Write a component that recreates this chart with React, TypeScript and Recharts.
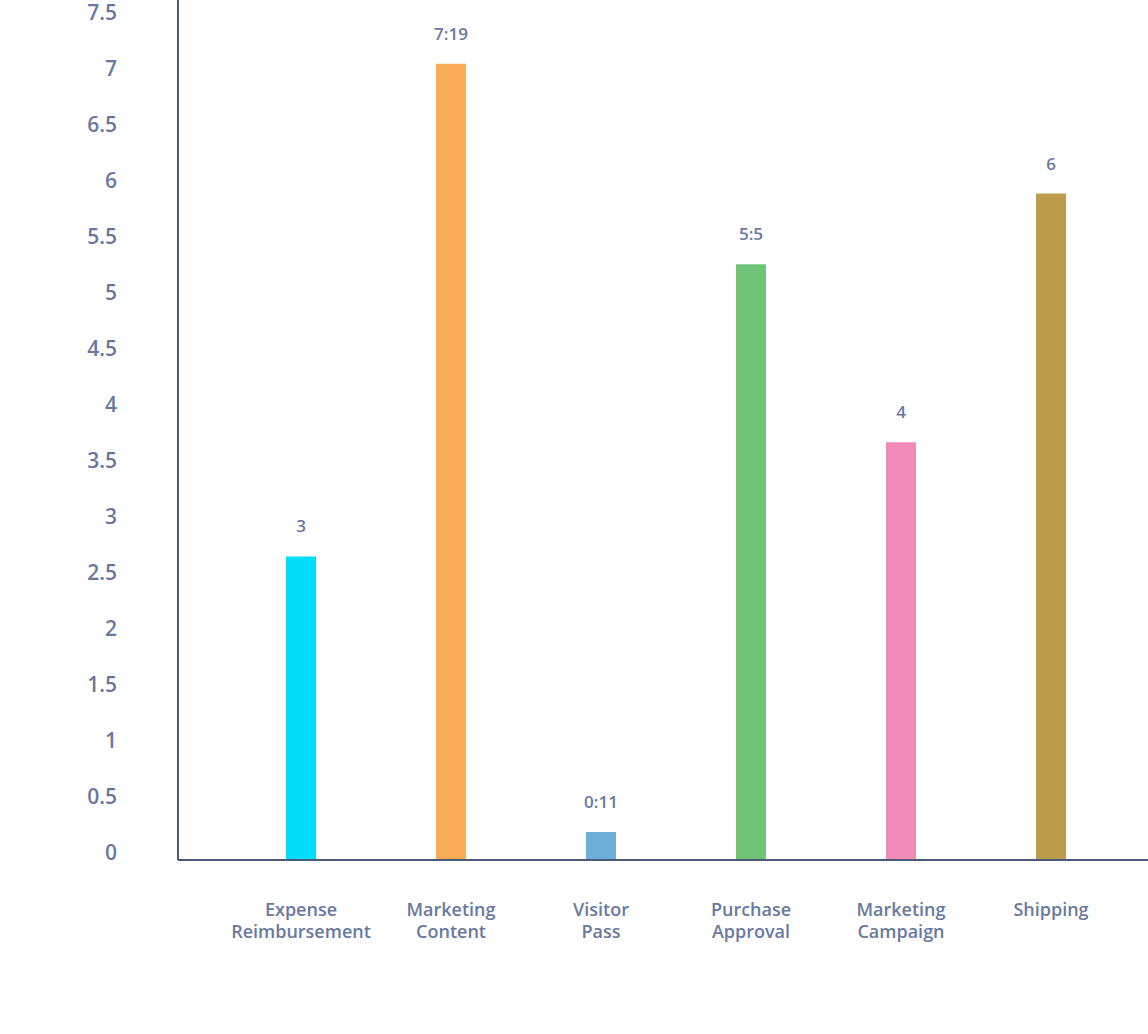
import React from "react";
import { BarChart, Bar, XAxis, YAxis, Cell, LabelList } from "recharts";

const categories = [
  "Expense Reimbursement",
  "Marketing Content",
  "Visitor Pass",
  "Purchase Approval",
  "Marketing Campaign",
  "Shipping",
];
const values = [2.71, 7.11, 0.25, 5.32, 3.73, 5.95];
const valueLabels = ["3", "7:19", "0:11", "5:5", "4", "6"];
const colors = ["#00DDFA", "#F8AD56", "#6DAEDB", "#6FC477", "#F28AB8", "#BB9C4A"];
const yTicks = [0, 0.5, 1, 1.5, 2, 2.5, 3, 3.5, 4, 4.5, 5, 5.5, 6, 6.5, 7, 7.5];

const data = categories.map((c, i) => ({ name: c, value: values[i], label: valueLabels[i] }));

const FONT = "'Open Sans', sans-serif";
const TEXT = "#6879A0";
const AXIS = "#4B5878";

const XTick = (props: any) => {
  const { x, y, payload } = props;
  const words = String(payload.value).split(" ");
  return (
    <text x={x} y={y + 50} textAnchor="middle" fill={TEXT} fontFamily={FONT} fontWeight={600} fontSize={18}>
      {words.map((w: string, i: number) => (
        <tspan key={i} x={x} dy={i === 0 ? 0 : 22}>
          {w}
        </tspan>
      ))}
    </text>
  );
};

const YTick = (props: any) => {
  const { x, y, payload } = props;
  return (
    <text x={x} y={y - 7} dy="0.35em" textAnchor="end" fill={TEXT} fontFamily={FONT} fontWeight={600} fontSize={21}>
      {payload.value}
    </text>
  );
};

export default function App() {
  return (
    <div style={{ position: "absolute", left: 0, top: 0, background: "#fff" }}>
      <BarChart
        width={1148}
        height={1034}
        data={data}
        margin={{ top: 0, right: 0, bottom: 0, left: 0 }}
      >
        <XAxis
          dataKey="name"
          tick={<XTick />}
          tickLine={false}
          axisLine={{ stroke: AXIS, strokeWidth: 2 }}
          padding={{ left: 48, right: 22 }}
          interval={0}
          tickMargin={0}
          height={174}
        />
        <YAxis
          width={178}
          domain={[0, 7.6786]}
          ticks={yTicks}
          allowDataOverflow
          tick={<YTick />}
          tickLine={false}
          tickSize={0}
          tickMargin={61}
          axisLine={{ stroke: AXIS, strokeWidth: 2 }}
        />
        <Bar dataKey="value" barSize={30} isAnimationActive={false}>
          {data.map((d, i) => (
            <Cell key={i} fill={colors[i]} />
          ))}
          <LabelList
            dataKey="label"
            position="top"
            offset={24}
            fill={TEXT}
            fontFamily={FONT}
            fontWeight={600}
            fontSize={17}
          />
        </Bar>
      </BarChart>
    </div>
  );
}
